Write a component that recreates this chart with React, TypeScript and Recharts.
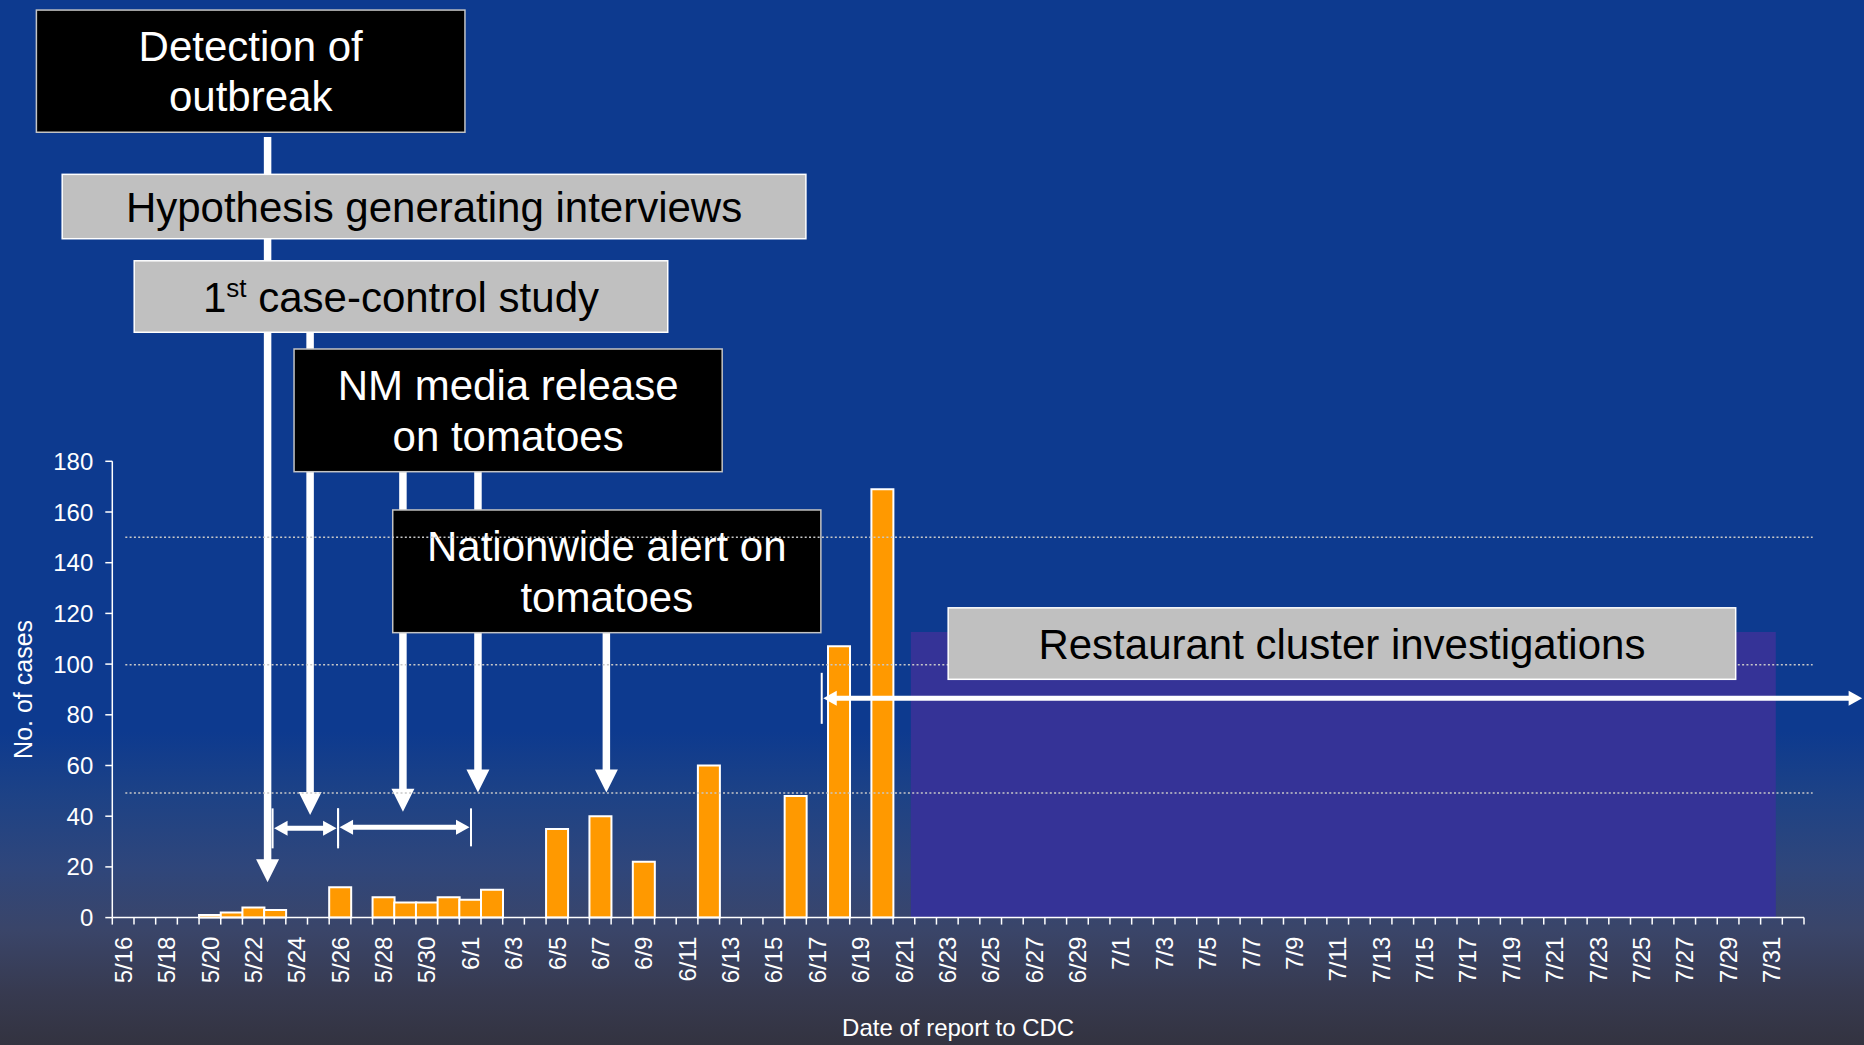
import React from 'react';
import {
  ComposedChart,
  Bar,
  XAxis,
  YAxis,
  ReferenceArea,
  ReferenceLine,
} from 'recharts';

const FONT = '"Liberation Sans", Arial, Helvetica, sans-serif';
const WIDTH = 1864;
const HEIGHT = 1045;

// --- data -------------------------------------------------------------

const reportDates = [
  '5/16', '5/17', '5/18', '5/19', '5/20', '5/21', '5/22', '5/23', '5/24', '5/25',
  '5/26', '5/27', '5/28', '5/29', '5/30', '5/31',
  '6/1', '6/2', '6/3', '6/4', '6/5', '6/6', '6/7', '6/8', '6/9', '6/10',
  '6/11', '6/12', '6/13', '6/14', '6/15', '6/16', '6/17', '6/18', '6/19', '6/20',
  '6/21', '6/22', '6/23', '6/24', '6/25', '6/26', '6/27', '6/28', '6/29', '6/30',
  '7/1', '7/2', '7/3', '7/4', '7/5', '7/6', '7/7', '7/8', '7/9', '7/10',
  '7/11', '7/12', '7/13', '7/14', '7/15', '7/16', '7/17', '7/18', '7/19', '7/20',
  '7/21', '7/22', '7/23', '7/24', '7/25', '7/26', '7/27', '7/28', '7/29', '7/30',
  '7/31', '8/1',
];

const caseCounts = [
  0, 0, 0, 0, 1, 2, 4, 3, 0, 0,
  12, 0, 8, 6, 6, 8,
  7, 11, 0, 0, 35, 0, 40, 0, 22, 0,
  0, 60, 0, 0, 0, 48, 0, 107, 0, 169,
  0, 0, 0, 0, 0, 0, 0, 0, 0, 0,
  0, 0, 0, 0, 0, 0, 0, 0, 0, 0,
  0, 0, 0, 0, 0, 0, 0, 0, 0, 0,
  0, 0, 0, 0, 0, 0, 0, 0, 0, 0,
  0, 0,
];

const yTicks = [0, 20, 40, 60, 80, 100, 120, 140, 160, 180];

// dotted guide levels (cases) and their horizontal extent (days from 5/16)
const guideLevels = [49.2, 99.7, 150];
const guideFrom = 0.6;
const guideTo = 78.4;

// restaurant cluster investigation window: [day, cases] corners
const clusterWindow = { from: [36.82, 0], to: [76.7, 112.7] };

type Pt = [number, number];

// annotation boxes, corners given as [day offset from 5/16, cases]
interface NoteBox {
  key: string;
  from: Pt;
  to: Pt;
  dark: boolean;
  lines: string[];
  sup?: { base: string; sup: string; rest: string };
}

const timelineBoxes: NoteBox[] = [
  { key: 'detect', from: [-3.5, 358.0], to: [16.26, 309.8], dark: true, lines: ['Detection of', 'outbreak'] },
  { key: 'hypo', from: [-2.31, 293.2], to: [31.98, 267.8], dark: false, lines: ['Hypothesis generating interviews'] },
  {
    key: 'cc',
    from: [1.01, 259.1],
    to: [25.61, 230.9],
    dark: false,
    lines: [],
    sup: { base: '1', sup: 'st', rest: '\u00a0case-control study' },
  },
  { key: 'nm', from: [8.38, 224.3], to: [28.12, 175.9], dark: true, lines: ['NM media release', 'on tomatoes'] },
  { key: 'alert', from: [12.93, 160.8], to: [32.67, 112.4], dark: true, lines: ['Nationwide alert on', 'tomatoes'] },
];

const restaurantBox: NoteBox = {
  key: 'rest',
  from: [38.54, 122.2],
  to: [74.85, 94.0],
  dark: false,
  lines: ['Restaurant cluster investigations'],
};

// downward arrows from each event to the date it happened
const dropArrows: { from: Pt; to: Pt }[] = [
  { from: [7.16, 307.9], to: [7.16, 13.9] },
  { from: [9.12, 231.0], to: [9.12, 40.5] },
  { from: [13.4, 175.8], to: [13.4, 41.8] },
  { from: [16.86, 175.8], to: [16.86, 49.3] },
  { from: [22.78, 112.4], to: [22.78, 49.3] },
];

// double-headed period arrows
const spanArrows: { from: Pt; to: Pt; ticks: 'both' | 'start'; tickHalf: number }[] = [
  { from: [7.39, 35.2], to: [10.41, 35.2], ticks: 'both', tickHalf: 20 },
  { from: [10.41, 35.6], to: [16.54, 35.6], ticks: 'both', tickHalf: 19 },
  { from: [32.71, 86.5], to: [80.75, 86.5], ticks: 'start', tickHalf: 25.5 },
];

const rows = reportDates.map((date, i) => ({ date, day: i, cases: caseCounts[i] }));

// --- shapes -----------------------------------------------------------

const X_TICK_SIZE = 7;
const X_TICK_GAP = 12;

function DateTick(props: any) {
  const { x, y, payload } = props;
  const idx = reportDates.indexOf(payload.value);
  const half = payload.offset ?? 10.85;
  const axisY = y - X_TICK_SIZE - X_TICK_GAP;
  return (
    <g>
      <line x1={x - half} x2={x - half} y1={axisY} y2={axisY + X_TICK_SIZE} stroke="#fff" strokeWidth={1.5} />
      {idx === reportDates.length - 1 && (
        <line x1={x + half} x2={x + half} y1={axisY} y2={axisY + X_TICK_SIZE} stroke="#fff" strokeWidth={1.5} />
      )}
      {idx % 2 === 0 && (
        <text
          transform={`translate(${x},${y}) rotate(-90)`}
          dy="0.36em"
          textAnchor="end"
          fill="#fff"
          fontSize={24}
          fontFamily={FONT}
        >
          {payload.value}
        </text>
      )}
    </g>
  );
}

function DropArrow({ x1, y1, x2, y2 }: any) {
  const head = 23;
  return (
    <g>
      <line x1={x1} y1={y1} x2={x2} y2={y2 - head + 2} stroke="#fff" strokeWidth={7.5} />
      <polygon points={`${x2 - 11.5},${y2 - head} ${x2 + 11.5},${y2 - head} ${x2},${y2}`} fill="#fff" />
    </g>
  );
}

function SpanArrow({ x1, y1, x2, ticks, tickHalf }: any) {
  const head = 15;
  const y = y1;
  return (
    <g>
      <line x1={x1 + head - 2} y1={y} x2={x2 - head + 2} y2={y} stroke="#fff" strokeWidth={5} />
      <polygon points={`${x1 + 1.5},${y} ${x1 + head},${y - 7.5} ${x1 + head},${y + 7.5}`} fill="#fff" />
      <polygon points={`${x2 - 1.5},${y} ${x2 - head},${y - 7.5} ${x2 - head},${y + 7.5}`} fill="#fff" />
      <line x1={x1} x2={x1} y1={y - tickHalf} y2={y + tickHalf} stroke="#fff" strokeWidth={2} />
      {ticks === 'both' && (
        <line x1={x2} x2={x2} y1={y - tickHalf} y2={y + tickHalf} stroke="#fff" strokeWidth={2} />
      )}
    </g>
  );
}

function BoxShape({ x1, y1, x2, y2, box }: any) {
  const b = box as NoteBox;
  const x = Math.min(x1, x2);
  const y = Math.min(y1, y2);
  const w = Math.abs(x2 - x1);
  const h = Math.abs(y2 - y1);
  const cx = x + w / 2;
  const cy = y + h / 2;
  const color = b.dark ? '#fff' : '#000';
  const textProps = { fill: color, fontSize: 42, fontFamily: FONT, textAnchor: 'middle' as const };
  return (
    <g>
      <rect
        x={x}
        y={y}
        width={w}
        height={h}
        fill={b.dark ? '#000' : '#c0c0c0'}
        stroke={b.dark ? '#c4c4c4' : '#fff'}
        strokeWidth={1.5}
      />
      {b.sup ? (
        <text x={cx} y={cy + 15} {...textProps}>
          <tspan>{b.sup.base}</tspan>
          <tspan fontSize={26} dy={-15}>{b.sup.sup}</tspan>
          <tspan dy={15}>{b.sup.rest}</tspan>
        </text>
      ) : b.lines.length === 2 ? (
        <>
          <text x={cx} y={cy - 10.25} {...textProps}>{b.lines[0]}</text>
          <text x={cx} y={cy + 40.25} {...textProps}>{b.lines[1]}</text>
        </>
      ) : (
        <text x={cx} y={cy + 15} {...textProps}>{b.lines[0]}</text>
      )}
    </g>
  );
}

function renderBox(box: NoteBox) {
  return (
    <ReferenceLine
      key={box.key}
      xAxisId="day"
      ifOverflow="visible"
      segment={[
        { x: box.from[0], y: box.from[1] },
        { x: box.to[0], y: box.to[1] },
      ]}
      shape={(p: any) => <BoxShape {...p} box={box} />}
    />
  );
}

function YTitle(props: any) {
  const vb = props.viewBox ?? { x: 0, y: 461.3, width: 112.3, height: 456.3 };
  const cy = vb.y + vb.height / 2;
  return (
    <text
      transform={`translate(${vb.x + 32},${cy}) rotate(-90)`}
      textAnchor="middle"
      fill="#fff"
      fontSize={25}
      fontFamily={FONT}
    >
      No. of cases
    </text>
  );
}

function XTitle(props: any) {
  const vb = props.viewBox ?? { x: 112.3, y: 917.6, width: 1691.7, height: 127.4 };
  return (
    <text
      x={vb.x + vb.width / 2}
      y={vb.y + vb.height - 9}
      textAnchor="middle"
      fill="#fff"
      fontSize={24}
      fontFamily={FONT}
    >
      Date of report to CDC
    </text>
  );
}

export default function App() {
  return (
    <div
      style={{
        position: 'absolute',
        left: 0,
        top: 0,
        width: WIDTH,
        height: HEIGHT,
        overflow: 'hidden',
        background:
          'linear-gradient(to bottom, #0d3a8f 0%, #0d3a8f 70%, #1d4286 76%, #2f467b 83%, #3a4569 89%, #373a50 95%, #333340 100%)',
      }}
    >
      <ComposedChart
        width={WIDTH}
        height={HEIGHT}
        data={rows}
        margin={{ top: 461.3, right: 60, bottom: 0, left: 0 }}
        barCategoryGap={0}
        barGap={0}
      >
        <XAxis
          dataKey="date"
          interval={0}
          height={127.4}
          tickSize={X_TICK_SIZE}
          tickMargin={X_TICK_GAP}
          tickLine={false}
          axisLine={{ stroke: '#fff', strokeWidth: 1.5 }}
          tick={<DateTick />}
          label={(p: any) => <XTitle {...p} />}
        />
        {/* continuous day scale for the timeline annotations */}
        <XAxis xAxisId="day" dataKey="day" type="number" domain={[0, 78]} allowDataOverflow hide />
        <YAxis
          domain={[0, 180]}
          ticks={yTicks}
          interval={0}
          width={112.3}
          tickSize={7}
          tickMargin={12}
          axisLine={{ stroke: '#fff', strokeWidth: 1.5 }}
          tickLine={{ stroke: '#fff', strokeWidth: 1.5 }}
          tick={{ fill: '#fff', fontSize: 24, fontFamily: FONT }}
          label={(p: any) => <YTitle {...p} />}
        />

        <ReferenceArea
          xAxisId="day"
          x1={clusterWindow.from[0]}
          x2={clusterWindow.to[0]}
          y1={clusterWindow.from[1]}
          y2={clusterWindow.to[1]}
          fill="#353397"
          fillOpacity={1}
          stroke="none"
          ifOverflow="visible"
        />

        <Bar dataKey="cases" fill="#ff9900" stroke="#fff" strokeWidth={2} isAnimationActive={false} />

        {dropArrows.map((a, i) => (
          <ReferenceLine
            key={`drop-${i}`}
            xAxisId="day"
            ifOverflow="visible"
            segment={[
              { x: a.from[0], y: a.from[1] },
              { x: a.to[0], y: a.to[1] },
            ]}
            shape={(p: any) => <DropArrow {...p} />}
          />
        ))}

        {spanArrows.map((a, i) => (
          <ReferenceLine
            key={`span-${i}`}
            xAxisId="day"
            ifOverflow="visible"
            segment={[
              { x: a.from[0], y: a.from[1] },
              { x: a.to[0], y: a.to[1] },
            ]}
            shape={(p: any) => <SpanArrow {...p} ticks={a.ticks} tickHalf={a.tickHalf} />}
          />
        ))}

        {timelineBoxes.map(renderBox)}

        {guideLevels.map((v) => (
          <ReferenceLine
            key={`guide-${v}`}
            xAxisId="day"
            ifOverflow="visible"
            segment={[
              { x: guideFrom, y: v },
              { x: guideTo, y: v },
            ]}
            stroke="#c8c8c8"
            strokeWidth={1.5}
            strokeDasharray="2 2.3"
          />
        ))}

        {renderBox(restaurantBox)}
      </ComposedChart>
    </div>
  );
}
